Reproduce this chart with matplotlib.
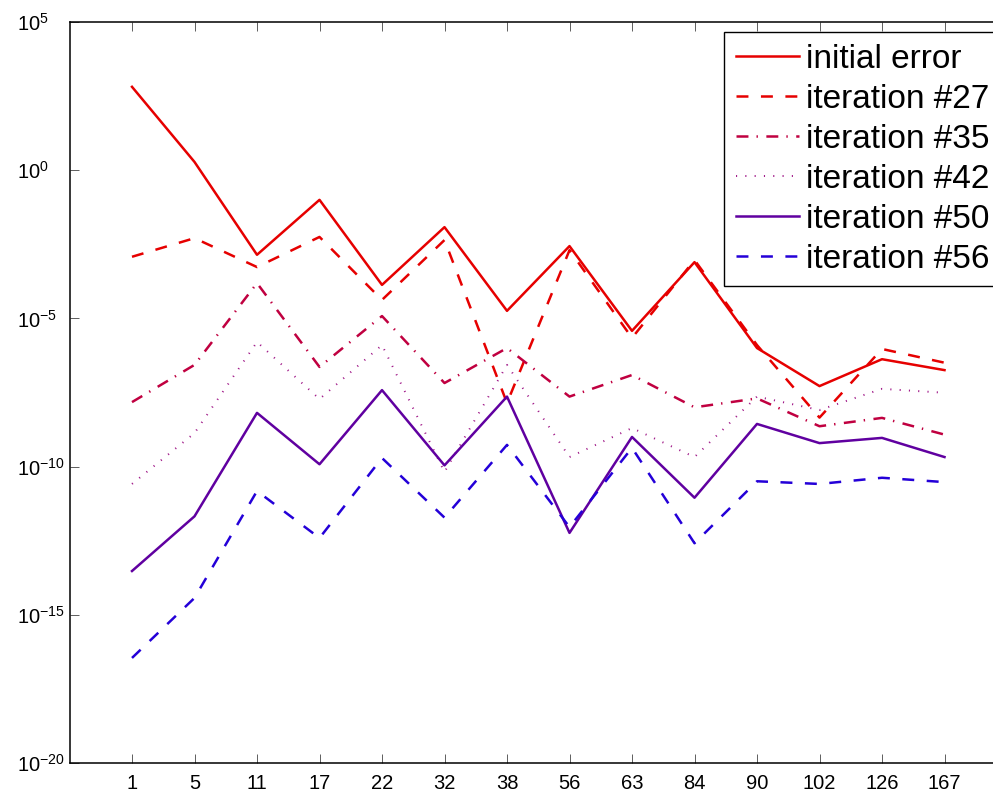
import numpy as np
import matplotlib
matplotlib.use("Agg")
import matplotlib.pyplot as plt

plt.rcParams['font.family'] = ['Liberation Sans', 'DejaVu Sans']
plt.rcParams['mathtext.fontset'] = 'custom'
plt.rcParams['mathtext.rm'] = 'Liberation Sans'
plt.rcParams['mathtext.it'] = 'Liberation Sans:italic'
plt.rcParams['mathtext.bf'] = 'Liberation Sans:bold'
plt.rcParams['lines.scale_dashes'] = False

# column indices (categories on the x axis)
sizes = ['1', '5', '11', '17', '22', '32', '38', '56', '63', '84', '90', '102', '126', '167']

# error per column
err_initial = [6.5e2, 1.9e0, 1.4e-3, 1.0e-1, 1.35e-4, 1.2e-2, 1.8e-5, 2.75e-3,
               3.8e-6, 7.9e-4, 1.0e-6, 5.2e-8, 4.2e-7, 1.8e-7]
err_it27 = [1.2e-3, 5.1e-3, 5.4e-4, 5.6e-3, 4.2e-5, 4.4e-3, 1.4e-8, 2.0e-3,
            2.2e-6, 9.3e-4, 1.26e-6, 4.5e-9, 9.3e-7, 3.2e-7]
err_it35 = [1.5e-8, 2.7e-7, 1.55e-4, 2.3e-7, 1.2e-5, 6.6e-8, 1.0e-6, 2.3e-8,
            1.23e-7, 1.0e-8, 2.0e-8, 2.3e-9, 4.4e-9, 1.2e-9]
err_it42 = [2.6e-11, 1.35e-9, 1.6e-6, 1.9e-8, 1.26e-6, 6.6e-11, 2.7e-7, 2.1e-10,
            2.0e-9, 2.1e-10, 2.3e-8, 8.1e-9, 4.2e-8, 3.1e-8]
err_it50 = [3.0e-14, 2.1e-12, 6.5e-9, 1.2e-10, 3.8e-8, 1.1e-10, 2.3e-8, 5.8e-13,
            1.0e-9, 8.9e-12, 2.75e-9, 6.2e-10, 9.3e-10, 2.1e-10]
err_it56 = [3.5e-17, 3.7e-15, 1.5e-11, 3.9e-13, 1.95e-10, 1.9e-12, 5.4e-10, 9.1e-13,
            4.3e-10, 2.6e-13, 3.2e-11, 2.6e-11, 4.2e-11, 3.0e-11]

W, H = 993, 793
fig = plt.figure(figsize=(W / 100, H / 100), dpi=100)
ax = fig.add_axes([69.5 / W, 30 / H, 937.5 / W, 741 / H])

x = np.arange(1, len(sizes) + 1)
lw = 1.8
ax.plot(x, err_initial, color='#E60000', lw=lw, ls='-', label='initial error')
ax.plot(x, err_it27, color='#E60000', lw=lw, dashes=(8.6, 9.0), label='iteration #27')
ax.plot(x, err_it35, color='#C00040', lw=lw, dashes=(8.6, 5.8, 1.0, 6.1), label='iteration #35')
ax.plot(x, err_it42, color='#A01888', lw=1.4, dashes=(0.8, 5.9), label='iteration #42')
ax.plot(x, err_it50, color='#6000A0', lw=lw, ls='-', label='iteration #50')
ax.plot(x, err_it56, color='#2400D8', lw=lw, dashes=(8.6, 9.0), label='iteration #56')

ax.set_yscale('log')
ax.set_ylim(1e-20, 1e5)
ax.set_xlim(0, len(sizes) + 1)
ax.set_xticks(x)
ax.set_xticklabels(sizes)
yt = [1e-20, 1e-15, 1e-10, 1e-5, 1e0, 1e5]
ax.set_yticks(yt)
ax.set_yticklabels([r'$10^{%d}$' % int(np.log10(v)) for v in yt])
ax.yaxis.set_minor_locator(matplotlib.ticker.NullLocator())
ax.tick_params(axis='both', direction='in', length=6.5, width=0.6, color='#444444',
               labelsize=14.5, top=True, right=True)
ax.tick_params(axis='x', pad=8)
ax.tick_params(axis='y', pad=38)
for lbl in ax.get_yticklabels():
    lbl.set_horizontalalignment('left')
for sp in ax.spines.values():
    sp.set_linewidth(1.1)

leg = ax.legend(loc='upper left', bbox_to_anchor=((724 - 69.5) / 937.5, 1 - 10 / 741),
                borderaxespad=0, fontsize=24, handlelength=1.9, handletextpad=0.2,
                labelspacing=0.27, borderpad=0.35, fancybox=False, framealpha=1)
leg.get_frame().set_edgecolor('black')
leg.get_frame().set_linewidth(1.0)

fig.savefig('out.png', dpi=100)
